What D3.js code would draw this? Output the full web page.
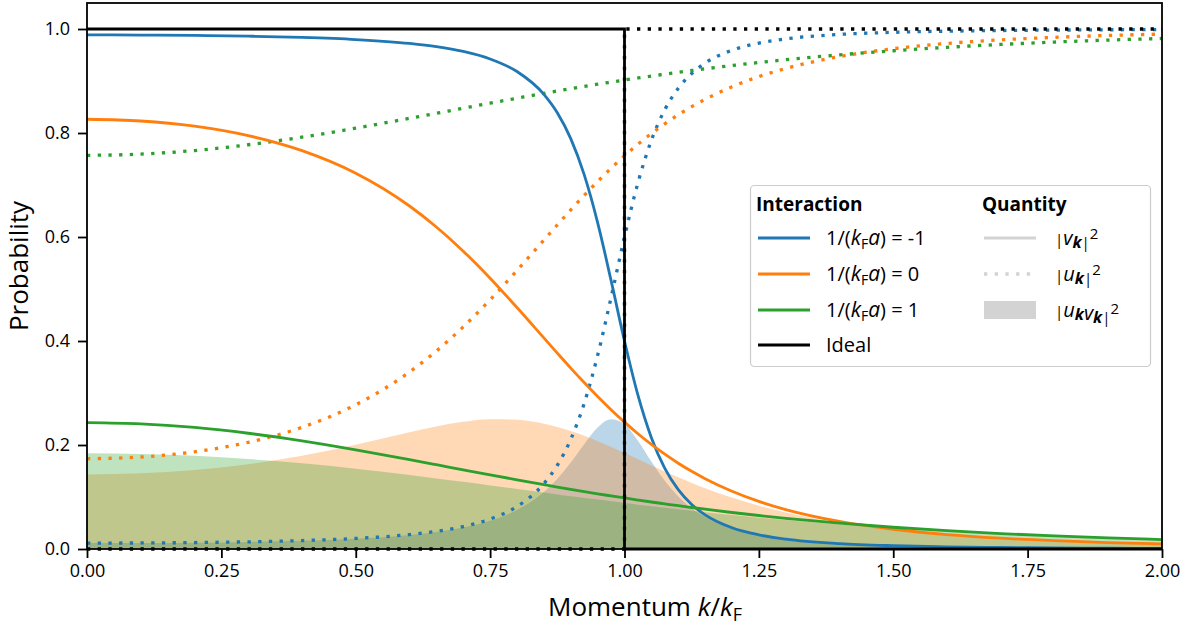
<!DOCTYPE html>
<html>
<head>
<meta charset="utf-8">
<script src="https://cdn.jsdelivr.net/npm/d3@7"></script>
<style>
  body { margin: 0; background: #fff; }
  svg { display: block; font-family: "Open Sans", "DejaVu Sans", sans-serif; }
</style>
</head>
<body>
<svg id="chart" width="1198" height="626"></svg>
<script>
// ---- data ----
const momentum = [0, 0.1, 0.2, 0.3, 0.4, 0.5, 0.6, 0.65, 0.7, 0.75, 0.8, 0.85, 0.875, 0.9, 0.925, 0.95, 0.975, 1.0,
  1.025, 1.05, 1.075, 1.1, 1.125, 1.15, 1.2, 1.25, 1.3, 1.4, 1.5, 1.6, 1.7, 1.8, 1.9, 2.0];

const blueV2 = [0.9886, 0.9884, 0.9876, 0.9862, 0.9838, 0.9797, 0.9722, 0.9660, 0.9568, 0.9424, 0.9182, 0.8744, 0.8390, 0.7892, 0.7199, 0.6278, 0.5165, 0.3999,
  0.2957, 0.2141, 0.1551, 0.1141, 0.0856, 0.0656, 0.0408, 0.0272, 0.0190, 0.0104, 0.0064, 0.0042, 0.0029, 0.0021, 0.0015, 0.0012];
const blueU2 = [0.0114, 0.0116, 0.0124, 0.0138, 0.0162, 0.0203, 0.0278, 0.0340, 0.0432, 0.0576, 0.0818, 0.1256, 0.1610, 0.2108, 0.2801, 0.3722, 0.4835, 0.6001,
  0.7043, 0.7859, 0.8449, 0.8859, 0.9144, 0.9344, 0.9592, 0.9728, 0.9810, 0.9896, 0.9936, 0.9958, 0.9971, 0.9979, 0.9985, 0.9988];
const blueUV2 = [0.0113, 0.0115, 0.0122, 0.0136, 0.0159, 0.0199, 0.0270, 0.0328, 0.0413, 0.0543, 0.0751, 0.1098, 0.1351, 0.1663, 0.2016, 0.2337, 0.2497, 0.2400,
  0.2083, 0.1682, 0.1311, 0.1011, 0.0783, 0.0613, 0.0392, 0.0264, 0.0187, 0.0103, 0.0063, 0.0041, 0.0029, 0.0021, 0.0015, 0.0012];

const orangeV2 = [0.8264, 0.8231, 0.8131, 0.7949, 0.7660, 0.7226, 0.6596, 0.6193, 0.5728, 0.5208, 0.4644, 0.4059, 0.3767, 0.3479, 0.3201, 0.2933, 0.2679, 0.2440,
  0.2217, 0.2011, 0.1823, 0.1650, 0.1494, 0.1353, 0.1111, 0.0916, 0.0759, 0.0530, 0.0380, 0.0278, 0.0209, 0.0160, 0.0124, 0.0098];
const orangeU2 = [0.1736, 0.1769, 0.1869, 0.2051, 0.2340, 0.2774, 0.3404, 0.3807, 0.4272, 0.4792, 0.5356, 0.5941, 0.6233, 0.6521, 0.6799, 0.7067, 0.7321, 0.7560,
  0.7783, 0.7989, 0.8177, 0.8350, 0.8506, 0.8647, 0.8889, 0.9084, 0.9241, 0.9470, 0.9620, 0.9722, 0.9791, 0.9840, 0.9876, 0.9902];
const orangeUV2 = [0.1435, 0.1456, 0.1520, 0.1630, 0.1793, 0.2005, 0.2245, 0.2358, 0.2447, 0.2496, 0.2487, 0.2411, 0.2348, 0.2269, 0.2176, 0.2073, 0.1961, 0.1844,
  0.1725, 0.1607, 0.1490, 0.1378, 0.1271, 0.1170, 0.0988, 0.0832, 0.0701, 0.0502, 0.0365, 0.0271, 0.0204, 0.0157, 0.0123, 0.0097];

const greenV2 = [0.2430, 0.2406, 0.2337, 0.2226, 0.2080, 0.1907, 0.1718, 0.1621, 0.1523, 0.1426, 0.1331, 0.1238, 0.1192, 0.1148, 0.1105, 0.1062, 0.1021, 0.0981,
  0.0942, 0.0904, 0.0868, 0.0832, 0.0798, 0.0765, 0.0702, 0.0644, 0.0591, 0.0497, 0.0418, 0.0352, 0.0297, 0.0251, 0.0213, 0.0182];
const greenU2 = [0.7570, 0.7594, 0.7663, 0.7774, 0.7920, 0.8093, 0.8282, 0.8379, 0.8477, 0.8574, 0.8669, 0.8762, 0.8808, 0.8852, 0.8895, 0.8938, 0.8979, 0.9019,
  0.9058, 0.9096, 0.9132, 0.9168, 0.9202, 0.9235, 0.9298, 0.9356, 0.9409, 0.9503, 0.9582, 0.9648, 0.9703, 0.9749, 0.9787, 0.9818];
const greenUV2 = [0.1840, 0.1827, 0.1791, 0.1730, 0.1647, 0.1544, 0.1423, 0.1358, 0.1291, 0.1223, 0.1154, 0.1085, 0.1050, 0.1016, 0.0983, 0.0950, 0.0917, 0.0885,
  0.0853, 0.0822, 0.0792, 0.0763, 0.0734, 0.0706, 0.0653, 0.0603, 0.0556, 0.0472, 0.0400, 0.0339, 0.0288, 0.0245, 0.0209, 0.0179];

const idealMomentum = [0, 1, 1, 2];
const idealV2 = [1, 1, 0, 0];
const idealU2 = [0, 0, 1, 1];

const xTicks = [0, 0.25, 0.5, 0.75, 1.0, 1.25, 1.5, 1.75, 2.0];
const yTicks = [0, 0.2, 0.4, 0.6, 0.8, 1.0];

const interactions = [
  { value: "-1", color: "#1f77b4", v2: blueV2, u2: blueU2, uv2: blueUV2 },
  { value: "0", color: "#ff7f0e", v2: orangeV2, u2: orangeU2, uv2: orangeUV2 },
  { value: "1", color: "#2ca02c", v2: greenV2, u2: greenU2, uv2: greenUV2 }
];

// ---- layout ----
const L = 87, R = 1162, T = 3, B = 549;
const svg = d3.select("#chart");
const x = d3.scaleLinear().domain([0, 2]).range([L, R]);
const y = d3.scaleLinear().domain([0, 1.05]).range([B, T]);

const LW = 2.8;
const DLW = 3.3;
const DOT = "3.3,7.4";

const area = d3.area().x(d => x(d[0])).y0(y(0)).y1(d => y(d[1])).curve(d3.curveMonotoneX);
const line = d3.line().x(d => x(d[0])).y(d => y(d[1])).curve(d3.curveMonotoneX);
const zip = arr => momentum.map((k, i) => [k, arr[i]]);

const plot = svg.append("g");
// fills
interactions.forEach(s => {
  plot.append("path").attr("d", area(zip(s.uv2))).attr("fill", s.color).attr("fill-opacity", 0.3).attr("stroke", "none");
});
// lines
interactions.forEach(s => {
  plot.append("path").attr("d", line(zip(s.u2))).attr("fill", "none").attr("stroke", s.color)
    .attr("stroke-width", DLW).attr("stroke-dasharray", DOT);
});
interactions.forEach(s => {
  plot.append("path").attr("d", line(zip(s.v2))).attr("fill", "none").attr("stroke", s.color)
    .attr("stroke-width", LW);
});
// ideal
const lineLin = d3.line().x(d => x(d[0])).y(d => y(d[1]));
plot.append("path").attr("d", lineLin(idealMomentum.map((k, i) => [k, idealU2[i]])))
  .attr("fill", "none").attr("stroke", "#000").attr("stroke-width", DLW).attr("stroke-dasharray", DOT);
plot.append("path").attr("d", lineLin(idealMomentum.map((k, i) => [k, idealV2[i]])))
  .attr("fill", "none").attr("stroke", "#000").attr("stroke-width", LW);

// frame
svg.append("rect").attr("x", L).attr("y", T).attr("width", R - L).attr("height", B - T)
  .attr("fill", "none").attr("stroke", "#000").attr("stroke-width", 1.8);

// axes
const xAxis = svg.append("g").attr("transform", `translate(0,${B})`)
  .call(d3.axisBottom(x).tickValues(xTicks).tickFormat(d3.format(".2f")).tickSize(9).tickPadding(6));
const yAxis = svg.append("g").attr("transform", `translate(${L},0)`)
  .call(d3.axisLeft(y).tickValues(yTicks).tickFormat(d3.format(".1f")).tickSize(9).tickPadding(8));
[xAxis, yAxis].forEach(a => {
  a.select(".domain").remove();
  a.selectAll(".tick line").attr("stroke", "#000").attr("stroke-width", 1.8);
  a.selectAll(".tick text").attr("fill", "#000").style("font-size", "18px").style("font-family", "'Open Sans', sans-serif");
});

// axis labels
const xl = svg.append("text").attr("x", 645).attr("y", 616).attr("text-anchor", "middle")
  .style("font-size", "26px").attr("fill", "#000");
xl.append("tspan").text("Momentum ");
xl.append("tspan").attr("font-style", "italic").text("k");
xl.append("tspan").text("/");
xl.append("tspan").attr("font-style", "italic").text("k");
xl.append("tspan").attr("dy", 5).style("font-size", "18px").text("F");

svg.append("text").attr("transform", `translate(28,266) rotate(-90)`)
  .attr("text-anchor", "middle").style("font-size", "26px").attr("fill", "#000").text("Probability");

// legend
const lg = svg.append("g");
lg.append("rect").attr("x", 750.5).attr("y", 185.5).attr("width", 400).attr("height", 181).attr("rx", 4)
  .attr("fill", "#fff").attr("fill-opacity", 0.8).attr("stroke", "#cccccc").attr("stroke-width", 1.2);
lg.append("text").attr("x", 756).attr("y", 211).style("font-size", "19px").attr("font-weight", "bold").text("Interaction");
lg.append("text").attr("x", 982).attr("y", 211).style("font-size", "19px").attr("font-weight", "bold").text("Quantity");

const rows = [238, 274, 310, 345];
const labels = interactions.map(s => ({ color: s.color, value: s.value })).concat([{ color: "#000", value: null }]);
labels.forEach((d, i) => {
  const yy = rows[i];
  lg.append("line").attr("x1", 758).attr("x2", 810).attr("y1", yy).attr("y2", yy)
    .attr("stroke", d.color).attr("stroke-width", LW);
  const t = lg.append("text").attr("x", 826).attr("y", yy + 7).style("font-size", "20px").attr("fill", "#000");
  if (d.value === null) { t.text("Ideal"); return; }
  t.append("tspan").text("1/(");
  t.append("tspan").attr("font-style", "italic").style("font-size", "21px").text("k");
  t.append("tspan").attr("dy", 4).style("font-size", "14px").text("F");
  t.append("tspan").attr("dy", -4).attr("font-style", "italic").style("font-size", "21px").text("a");
  t.append("tspan").text(") = " + d.value);
});

// quantity legend
lg.append("line").attr("x1", 984).attr("x2", 1036).attr("y1", rows[0]).attr("y2", rows[0])
  .attr("stroke", "#d3d3d3").attr("stroke-width", LW);
lg.append("line").attr("x1", 984).attr("x2", 1036).attr("y1", rows[1]).attr("y2", rows[1])
  .attr("stroke", "#d3d3d3").attr("stroke-width", DLW).attr("stroke-dasharray", DOT);
lg.append("rect").attr("x", 984).attr("y", rows[2] - 9).attr("width", 52).attr("height", 18).attr("fill", "#d3d3d3");

function qlabel(yy, parts) {
  const t = lg.append("text").attr("x", 1055).attr("y", yy + 7).style("font-size", "20px").attr("fill", "#000");
  t.append("tspan").style("font-size", "15px").text("|");
  parts.forEach(p => {
    t.append("tspan").attr("font-style", "italic").text(p);
    t.append("tspan").attr("dy", 3).attr("font-style", "italic").attr("font-weight", "bold").style("font-size", "16px").text("k");
    t.append("tspan").attr("dy", -3).text("");
  });
  t.append("tspan").style("font-size", "15px").text("|");
  t.append("tspan").attr("dy", -9).style("font-size", "15px").text("2");
}
qlabel(rows[0], ["v"]);
qlabel(rows[1], ["u"]);
qlabel(rows[2], ["u", "v"]);
</script>
</body>
</html>
